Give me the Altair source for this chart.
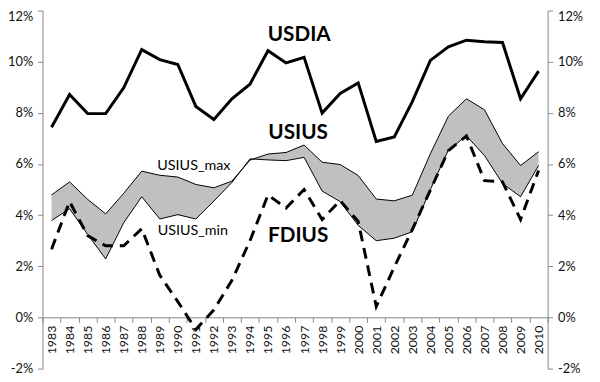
import altair as alt
import pandas as pd

years = list(range(1983, 2011))
usdia = [7.44, 8.72, 7.97, 7.97, 8.98, 10.47, 10.08, 9.89, 8.25, 7.74, 8.55, 9.12, 10.43, 9.95,
         10.17, 7.99, 8.76, 9.17, 6.88, 7.06, 8.44, 10.05, 10.58, 10.84, 10.78, 10.75, 8.55, 9.63]
usius_max = [4.79, 5.30, 4.62, 4.05, 4.85, 5.72, 5.56, 5.49, 5.20, 5.07, 5.33, 6.15, 6.39, 6.45,
             6.74, 6.07, 5.98, 5.55, 4.63, 4.56, 4.78, 6.40, 7.87, 8.55, 8.12, 6.80, 5.94, 6.48]
usius_min = [3.79, 4.25, 3.25, 2.29, 3.70, 4.72, 3.85, 4.02, 3.85, 4.55, 5.28, 6.20, 6.16, 6.13,
             6.26, 4.94, 4.53, 3.60, 3.00, 3.10, 3.35, 5.00, 6.55, 7.10, 6.33, 5.24, 4.72, 5.94]
fdius = [2.67, 4.53, 3.20, 2.80, 2.80, 3.47, 1.65, 0.62, -0.47, 0.30, 1.45, 3.00, 4.79, 4.28,
         5.00, 3.83, 4.57, 3.75, 0.43, 1.97, 3.44, 4.98, 6.52, 7.10, 5.35, 5.30, 3.83, 5.75]

label_text = ["USDIA", "USIUS", "FDIUS", "USIUS_max", "USIUS_min"]
label_year = [1997, 1997, 1997, 1991, 1991]
label_val = [11.03, 7.22, 3.17, 5.90, 3.36]
label_dx = [-5, -6, -6, -2, -3]
label_size = [21, 21, 21, 14.5, 14.5]
label_weight = ["bold", "bold", "bold", "normal", "normal"]

y_ticks = [-2, 0, 2, 4, 6, 8, 10, 12]

df = pd.DataFrame({"year": years, "usdia": usdia, "max": usius_max, "min": usius_min, "fdius": fdius})
lab = pd.DataFrame({"text": label_text, "year": label_year, "val": label_val})

GRAY = "#868686"
FONT = "Lato"

xscale = alt.Scale(type="band", paddingInner=0, paddingOuter=0)
yscale = alt.Scale(domain=[-2, 12], nice=False, zero=False)

xaxis = alt.Axis(orient="bottom", offset=-52, labelAngle=-90, tickBand="extent", title=None,
                 domainColor=GRAY, tickColor=GRAY, tickSize=5, labelPadding=3,
                 labelFont=FONT, labelFontSize=12.5, labelColor="#111", grid=False)

baseline_cond = {"condition": {"test": "datum.value == 12", "value": "top"}, "value": "middle"}

def yaxis(orient):
    return alt.Axis(orient=orient, values=y_ticks, labelExpr="datum.value + '%'", title=None,
                    domainColor=GRAY, tickColor=GRAY, tickSize=5, labelPadding=5, grid=False,
                    labelFont=FONT, labelFontSize=13, labelColor="#111",
                    labelBaseline=baseline_cond)

def X():
    return alt.X("year:O", scale=xscale, axis=xaxis)

base = alt.Chart(df)

band = base.mark_area(color="#c0c0c0").encode(
    x=X(),
    y=alt.Y("max:Q", scale=yscale, axis=yaxis("left")),
    y2="min:Q",
)
max_line = base.mark_line(color="black", strokeWidth=1).encode(
    x=X(), y=alt.Y("max:Q", scale=yscale, axis=yaxis("right")))
min_line = base.mark_line(color="black", strokeWidth=1).encode(
    x=X(), y=alt.Y("min:Q", scale=yscale, axis=None))
fd_line = base.mark_line(color="black", strokeWidth=3, strokeDash=[11, 7]).encode(
    x=X(), y=alt.Y("fdius:Q", scale=yscale, axis=None))
dia_line = base.mark_line(color="black", strokeWidth=3, strokeJoin="miter").encode(
    x=X(), y=alt.Y("usdia:Q", scale=yscale, axis=None))

texts = []
for i in range(len(label_text)):
    texts.append(
        alt.Chart(lab.iloc[[i]]).mark_text(font=FONT, fontSize=label_size[i], fontWeight=label_weight[i],
                                           color="black", dx=label_dx[i], align="center",
                                           baseline="middle").encode(
            x=X(),
            y=alt.Y("val:Q", scale=yscale, axis=None),
            text="text:N",
        )
    )

chart = alt.layer(band, max_line, min_line, fd_line, dia_line, *texts).resolve_axis(
    y="independent", x="shared"
).properties(
    width=512, height=363,
    autosize=alt.AutoSizeParams(type="none"),
    padding={"left": 35, "top": 0, "right": 45, "bottom": 11},
).configure_view(stroke=None)

chart.save("out.html", embed_options={"renderer": "svg", "actions": False})
